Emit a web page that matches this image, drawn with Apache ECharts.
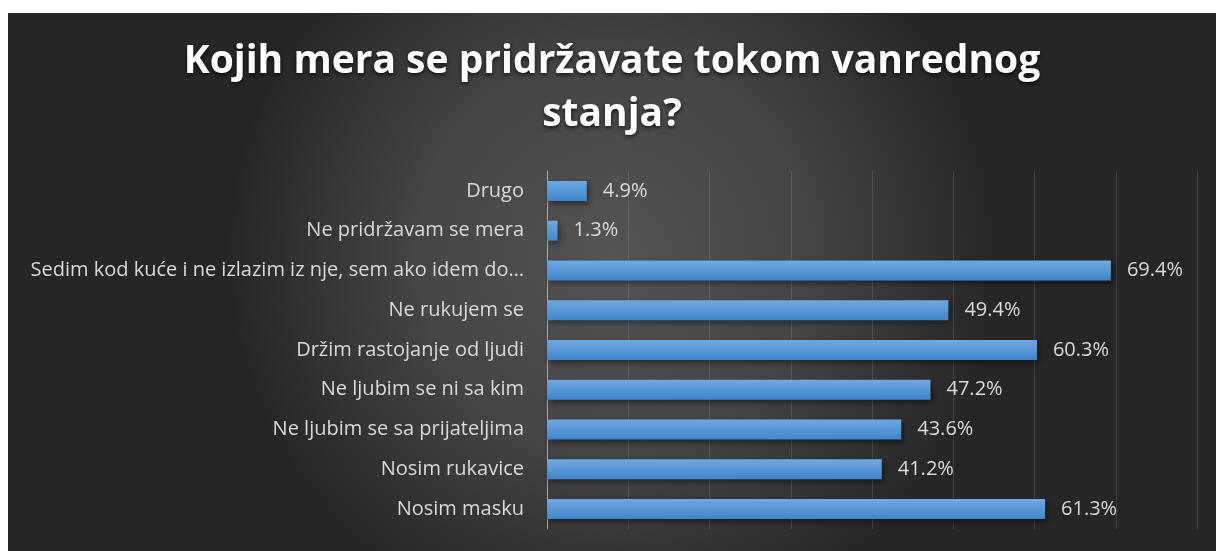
<!DOCTYPE html>
<html>
<head>
<meta charset="utf-8">
<script src="https://cdn.jsdelivr.net/npm/echarts@6/dist/echarts.min.js"></script>
<style>
    html, body { margin: 0; padding: 0; background: #ffffff; }
    #chart1 { position: absolute; left: 8px; top: 13px; width: 1208px; height: 538px; }
</style>
</head>
<body>
<div id="chart1"></div>
<script>
var categories = [
    'Nosim masku',
    'Nosim rukavice',
    'Ne ljubim se sa prijateljima',
    'Ne ljubim se ni sa kim',
    'Držim rastojanje od ljudi',
    'Ne rukujem se',
    'Sedim kod kuće i ne izlazim iz nje, sem ako idem do…',
    'Ne pridržavam se mera',
    'Drugo'
];
var values = [61.3, 41.2, 43.6, 47.2, 60.3, 49.4, 69.4, 1.3, 4.9];
var titleText = 'Kojih mera se pridržavate tokom vanrednog\nstanja?';

var myChart1;
var chartDom = document.getElementById('chart1');
myChart1 = echarts.init(chartDom);

var option = {
    backgroundColor: {
        type: 'radial',
        x: 0.5, y: 0.45, r: 0.72,
        colorStops: [
            { offset: 0, color: '#545454' },
            { offset: 0.5, color: '#454545' },
            { offset: 1, color: '#262626' }
        ]
    },
    title: {
        text: titleText,
        left: 'center',
        top: 17,
        textStyle: {
            color: '#ffffff',
            fontFamily: 'Open Sans',
            fontWeight: 'bold',
            fontSize: 39,
            lineHeight: 53,
            textShadowColor: 'rgba(0,0,0,0.7)',
            textShadowBlur: 4,
            textShadowOffsetY: 2
        }
    },
    grid: {
        left: 539,
        right: 19,
        top: 158,
        bottom: 22,
        containLabel: false
    },
    xAxis: {
        type: 'value',
        min: 0,
        max: 80,
        interval: 10,
        axisLabel: { show: false },
        axisLine: { show: false },
        axisTick: { show: false },
        splitLine: { lineStyle: { color: 'rgba(255,255,255,0.12)', width: 1 } }
    },
    yAxis: {
        type: 'category',
        data: categories,
        axisLine: { show: true, lineStyle: { color: '#a6a6a6', width: 1 } },
        axisTick: { show: false },
        axisLabel: {
            color: '#d9d9d9',
            fontFamily: 'Open Sans',
            fontSize: 20,
            margin: 23
        }
    },
    series: [
        {
            type: 'bar',
            data: values,
            barWidth: 20,
            itemStyle: {
                color: {
                    type: 'linear', x: 0, y: 0, x2: 0, y2: 1,
                    colorStops: [
                        { offset: 0, color: '#6fa9e0' },
                        { offset: 1, color: '#3f85cc' }
                    ]
                },
                shadowColor: 'rgba(0,0,0,0.45)',
                shadowBlur: 6,
                shadowOffsetX: 2,
                shadowOffsetY: 3
            },
            label: {
                show: true,
                position: 'right',
                distance: 16,
                color: '#d9d9d9',
                fontFamily: 'Open Sans',
                fontSize: 20,
                formatter: function (p) {
                    return p.value.toFixed(1) + '%';
                }
            }
        }
    ]
};
myChart1.setOption(option);
</script>
</body>
</html>
